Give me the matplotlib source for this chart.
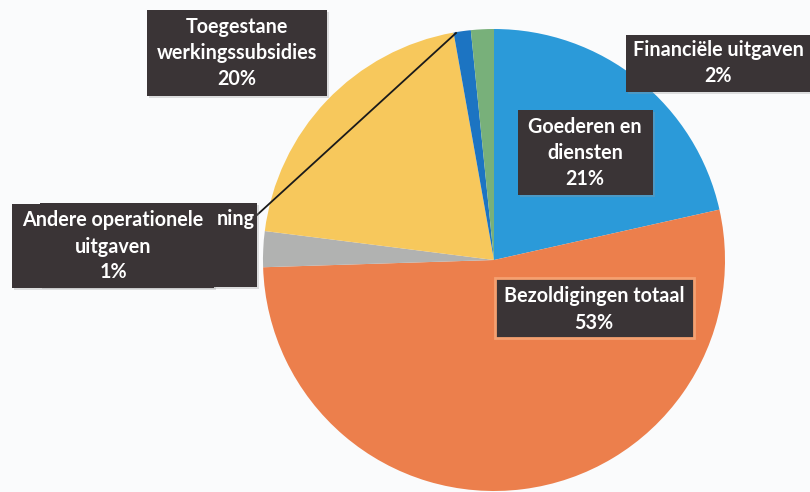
import matplotlib.pyplot as plt
from matplotlib.patches import Rectangle

# slice data (clockwise from 12 o'clock)
categories = ["Goederen en diensten", "Bezoldigingen totaal", "Andere operationele uitgaven",
              "Toegestane werkingssubsidies", "ning", "Financiële uitgaven"]
values = [21.5, 53.0, 2.5, 20.2, 1.2, 1.6]
pct_labels = ["21%", "53%", "1%", "20%", "", "2%"]
colors = ["#2b9ad9", "#ec7f4c", "#b1b2b1", "#f7c85c", "#1c74c2", "#78b07a"]

H = 492
def py(y):
    return H - y

fig = plt.figure(figsize=(8.1, 4.92), dpi=100)
ax = fig.add_axes([0, 0, 1, 1])
fig.patch.set_facecolor("#fafbfc")

ax.pie(values, colors=colors, startangle=90, counterclock=False,
       center=(494, py(260)), radius=231, wedgeprops=dict(linewidth=0))
ax.set_xlim(0, 810)
ax.set_ylim(0, H)
ax.set_aspect("equal")
ax.axis("off")

# leader line for the hidden label
ax.plot([257, 456], [py(215), py(33)], color="#1a1a1a", lw=1.3, zorder=3)

box_fc = "#3a3436"
font = dict(family=["Lato", "DejaVu Sans"], weight="bold", color="white", fontsize=14.2)

def box(x0, y0, x1, y1, ec="none", lw=0):
    ax.add_patch(Rectangle((x0 + 2, py(y1) - 2), x1 - x0, y1 - y0, fc="#999999",
                           alpha=0.3, ec="none", zorder=4))
    ax.add_patch(Rectangle((x0, py(y1)), x1 - x0, y1 - y0, fc=box_fc, ec=ec, lw=lw, zorder=5))

def lines(cx, ys, texts):
    for y, t in zip(ys, texts):
        ax.text(cx, py(y), t, ha="center", va="center", zorder=6, **font)

# hidden label behind
box(40, 203, 257, 287)
ax.text(236, py(219), categories[4], ha="center", va="center", zorder=6, **font)

# Andere operationele uitgaven
box(12, 204, 214, 288)
lines(113, [220, 247, 272], ["Andere operationele", "uitgaven", pct_labels[2]])

# Toegestane werkingssubsidies
box(147, 10, 327, 96)
lines(237, [27, 53, 79], ["Toegestane", "werkingssubsidies", pct_labels[3]])

# Financiële uitgaven
box(626, 35, 810, 92)
lines(718, [50, 76], [categories[5], pct_labels[5]])

# Goederen en diensten
box(518, 110, 653, 195)
lines(585, [127, 153, 179], ["Goederen en", "diensten", pct_labels[0]])

# Bezoldigingen totaal
box(495, 278, 694, 338, ec="#f5a070", lw=2)
lines(594, [296, 323], [categories[1], pct_labels[1]])

fig.savefig("out.png", dpi=100, facecolor=fig.get_facecolor())
